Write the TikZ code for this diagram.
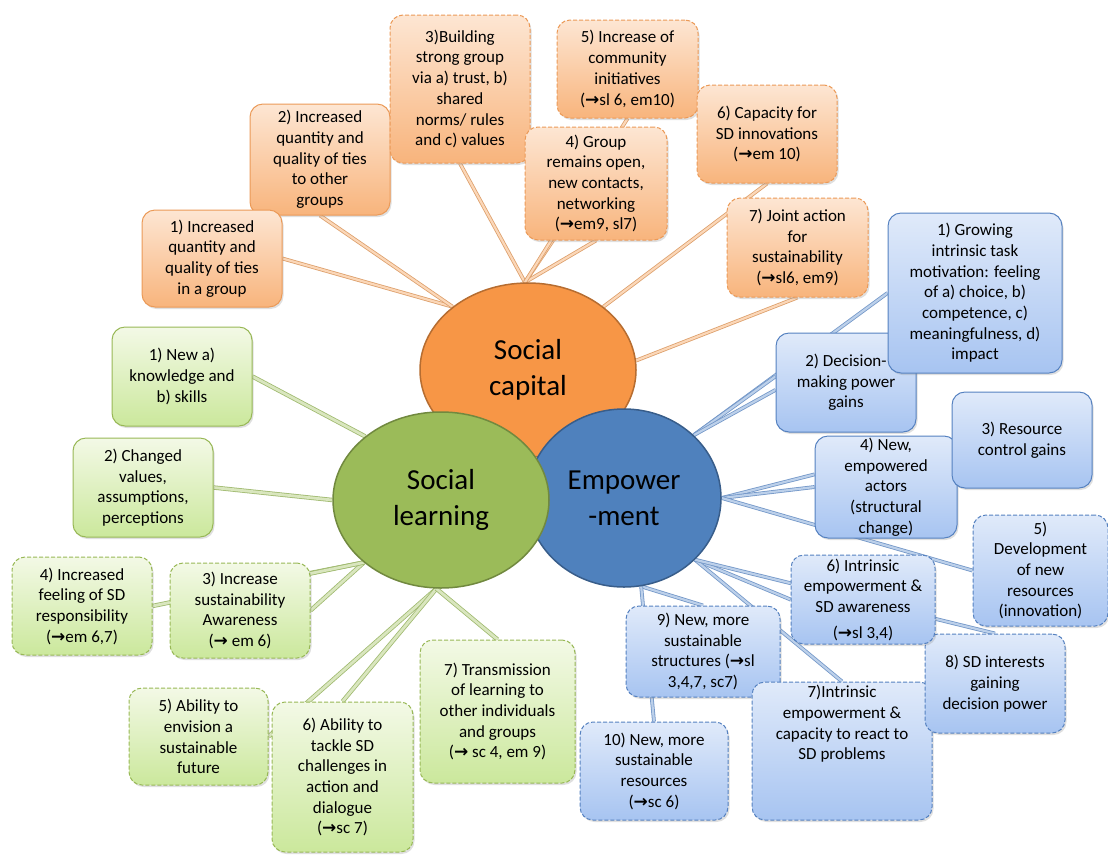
\documentclass[tikz,border=0pt]{standalone}
\usepackage{fontspec}
\setmainfont{Carlito}
\newfontfamily\arrowfont{DejaVu Sans}
\usepackage{tikz}
\usetikzlibrary{shapes.geometric,shadows}
\pgfdeclarelayer{bg}
\pgfsetlayers{bg,main}
\definecolor{capfill}{HTML}{F79646}
\definecolor{capline}{HTML}{B66D31}
\definecolor{learnfill}{HTML}{9BBB59}
\definecolor{learnline}{HTML}{71893F}
\definecolor{empfill}{HTML}{4F81BD}
\definecolor{empline}{HTML}{385D8A}
\definecolor{sctop}{HTML}{FDE6D3}
\definecolor{scbot}{HTML}{F8B47C}
\definecolor{scedge}{HTML}{EB9A58}
\definecolor{sltop}{HTML}{F3F9E6}
\definecolor{slbot}{HTML}{CBE89C}
\definecolor{sledge}{HTML}{98B856}
\definecolor{emtop}{HTML}{E0EAFA}
\definecolor{embot}{HTML}{A7C4F1}
\definecolor{emedge}{HTML}{5581C0}
\definecolor{sclinkout}{HTML}{DDA06C}
\definecolor{sclinkin}{HTML}{FBD7B8}
\definecolor{sllinkout}{HTML}{A0BA70}
\definecolor{sllinkin}{HTML}{D9E6BE}
\definecolor{emlinkout}{HTML}{7397C8}
\definecolor{emlinkin}{HTML}{BCD0EA}
\newcommand{\toarr}{{\arrowfont\bfseries →}}

\tikzset{
 box/.style={rectangle, rounded corners=13pt, align=center, inner sep=0pt,
  line width=1pt, font=\fontsize{17}{20.7}\selectfont,
  drop shadow={opacity=0.25,shadow xshift=1.5pt,shadow yshift=-2pt}},
 scbox/.style={box, draw=scedge, top color=sctop, bottom color=scbot},
 slbox/.style={box, draw=sledge, top color=sltop, bottom color=slbot},
 embox/.style={box, draw=emedge, top color=emtop, bottom color=embot},
 dashbox/.style={dash pattern=on 4pt off 2pt},
 hub/.style={ellipse, inner sep=0pt, line width=1.5pt, align=center,
  font=\fontsize{29}{36}\selectfont},
 sclink/.style={draw=sclinkout, double=sclinkin, double distance=2.2pt, line width=0.8pt},
 sllink/.style={draw=sllinkout, double=sllinkin, double distance=2.8pt, line width=0.8pt},
 emlink/.style={draw=emlinkout, double=emlinkin, double distance=2.2pt, line width=0.8pt},
}

\begin{document}
\begin{tikzpicture}[x=1pt,y=-1pt]
 \useasboundingbox (0,0) rectangle (1108,855);

 % the three hubs
 \node[hub, fill=capfill, draw=capline, minimum width=216pt, minimum height=174pt] (cap) at (528,370) {Social\\capital};
 \node[hub, fill=empfill, draw=empline, minimum width=194pt, minimum height=178pt] (emp) at (624,498) {Empower\\-ment};
 \node[hub, fill=learnfill, draw=learnline, minimum width=216pt, minimum height=176pt] (learn) at (441,500) {Social\\learning};

 % social capital
 \node[scbox, minimum width=140pt, minimum height=111pt] (sc2) at (320,159.5) {2) Increased\\quantity and\\quality of ties\\to other\\groups};
 \node[scbox, minimum width=140pt, minimum height=97pt] (sc1) at (212,258.5) {1) Increased\\quantity and\\quality of ties\\in a group};
 \node[scbox, dashbox, minimum width=140pt, minimum height=148pt] (sc3) at (460,89) {3)Building\\strong group\\via a) trust, b)\\shared\\norms/ rules\\and c) values};
 \node[scbox, dashbox, minimum width=142pt, minimum height=113pt] (sc4) at (596,183.5) {4) Group\\remains open,\\new contacts,\\networking\\(\toarr em9, sl7)};
 \node[scbox, dashbox, minimum width=141pt, minimum height=98pt] (sc5) at (627.5,69) {5) Increase of\\community\\initiatives\\(\toarr sl 6, em10)};
 \node[scbox, dashbox, minimum width=140pt, minimum height=98pt] (sc6) at (767,134) {6) Capacity for\\SD innovations\\(\toarr em 10)};
 \node[scbox, dashbox, minimum width=141pt, minimum height=99pt] (sc7) at (797.5,247.5) {7) Joint action\\for\\sustainability\\(\toarr sl6, em9)};

 % social learning
 \node[slbox, minimum width=140pt, minimum height=99pt] (sl1) at (182,376.5) {1) New a)\\knowledge and\\b) skills};
 \node[slbox, minimum width=140pt, minimum height=99pt] (sl2) at (143,487.5) {2) Changed\\values,\\assumptions,\\perceptions};
 \node[slbox, dashbox, minimum width=140pt, minimum height=95pt] (sl3) at (240,610.5) {3) Increase\\sustainability\\Awareness\\(\toarr{} em 6)};
 \node[slbox, dashbox, minimum width=140pt, minimum height=98pt] (sl4) at (82,606) {4) Increased\\feeling of SD\\responsibility\\(\toarr em 6,7)};
 \node[slbox, dashbox, minimum width=139pt, minimum height=97pt] (sl5) at (198.5,736.5) {5) Ability to\\envision a\\sustainable\\future};
 \node[slbox, dashbox, minimum width=141pt, minimum height=150pt] (sl6) at (342.5,777) {6) Ability to\\tackle SD\\challenges in\\action and\\dialogue\\(\toarr sc 7)};
 \node[slbox, dashbox, minimum width=155pt, minimum height=143pt] (sl7) at (497.5,711.5) {7) Transmission\\of learning to\\other individuals\\and groups\\(\toarr{} sc 4, em 9)};

 % empowerment
 \node[embox, minimum width=140pt, minimum height=99pt] (em2) at (846,382.5) {2) Decision-\\making power\\gains};
 \node[embox, minimum width=174pt, minimum height=160pt] (em1) at (975,293) {1) Growing\\intrinsic task\\motivation: feeling\\of a) choice, b)\\competence, c)\\meaningfulness, d)\\impact};
 \node[embox, minimum width=142pt, minimum height=102pt] (em4) at (886,487) {4) New,\\empowered\\actors\\(structural\\change)};
 \node[embox, minimum width=140pt, minimum height=96pt] (em3) at (1022,440) {3) Resource\\control gains};
 \node[embox, dashbox, minimum width=135pt, minimum height=111pt] (em5) at (1040.5,570.5) {5)\\Development\\of new\\resources\\(innovation)};
 \node[embox, dashbox, minimum width=148pt, minimum height=98pt] (em10) at (654,771) {10) New, more\\sustainable\\resources\\(\toarr sc 6)};
 \node[embox, dashbox, minimum width=154pt, minimum height=91pt] (em9) at (703,651.5) {9) New, more\\sustainable\\structures (\toarr sl\\3,4,7, sc7)};
 \node[embox, dashbox, minimum width=180pt, minimum height=138pt] (em7) at (842,751) {7)Intrinsic\\empowerment \&\\capacity to react to\\SD problems\\[36pt]};
 \node[embox, dashbox, minimum width=140pt, minimum height=99pt] (em8) at (995,683.5) {8) SD interests\\gaining\\decision power};
 \node[embox, dashbox, minimum width=144pt, minimum height=89pt] (em6) at (863,599.5) {6) Intrinsic\\empowerment \&\\SD awareness\\[5pt](\toarr sl 3,4)};

 \begin{pgfonlayer}{bg}
  \draw[sclink] (sc1.east) -- (cap.140);
  \draw[sclink] (sc2.south) -- (cap.140);
  \draw[sclink] (sc3.south) -- (cap.92);
  \draw[sclink] (sc4.233) -- (cap.92);
  \draw[sclink] (sc4.south) -- (cap.92);
  \draw[sclink] (sc5.south) -- (cap.92);
  \draw[sclink] (sc6.south) -- (cap.40);
  \draw[sclink] (sc7.south) -- (cap.5);

  \draw[sllink] (sl1.east) -- (learn.140);
  \draw[sllink] (sl2.east) -- (learn.180);
  \draw[sllink] (sl3.28) -- (learn.219);
  \draw[sllink] (sl3.east) -- (learn.219);
  \draw[sllink] (sl4.east) -- (learn.219);
  \draw[sllink] (sl5.east) -- (learn.267);
  \draw[sllink] (sl6.north) -- (learn.267);
  \draw[sllink] (sl7.north) -- (learn.267);

  \draw[emlink] (em1.west) -- (emp.42);
  \draw[emlink] (em2.175) -- (emp.42);
  \draw[emlink] (em2.186) -- (emp.42);
  \draw[emlink] (em4.170) -- (emp.0);
  \draw[emlink] (em4.west) -- (emp.0);
  \draw[emlink] (em5.west) -- (emp.0);
  \draw[emlink] (em6.west) -- (emp.-41);
  \draw[emlink] (em7.north) -- (emp.-41);
  \draw[emlink] (em8.north) -- (emp.-41);
  \draw[emlink] (em9.north) -- (emp.-79);
  \draw[emlink] (em10.north) -- (emp.-79);
 \end{pgfonlayer}
\end{tikzpicture}
\end{document}
